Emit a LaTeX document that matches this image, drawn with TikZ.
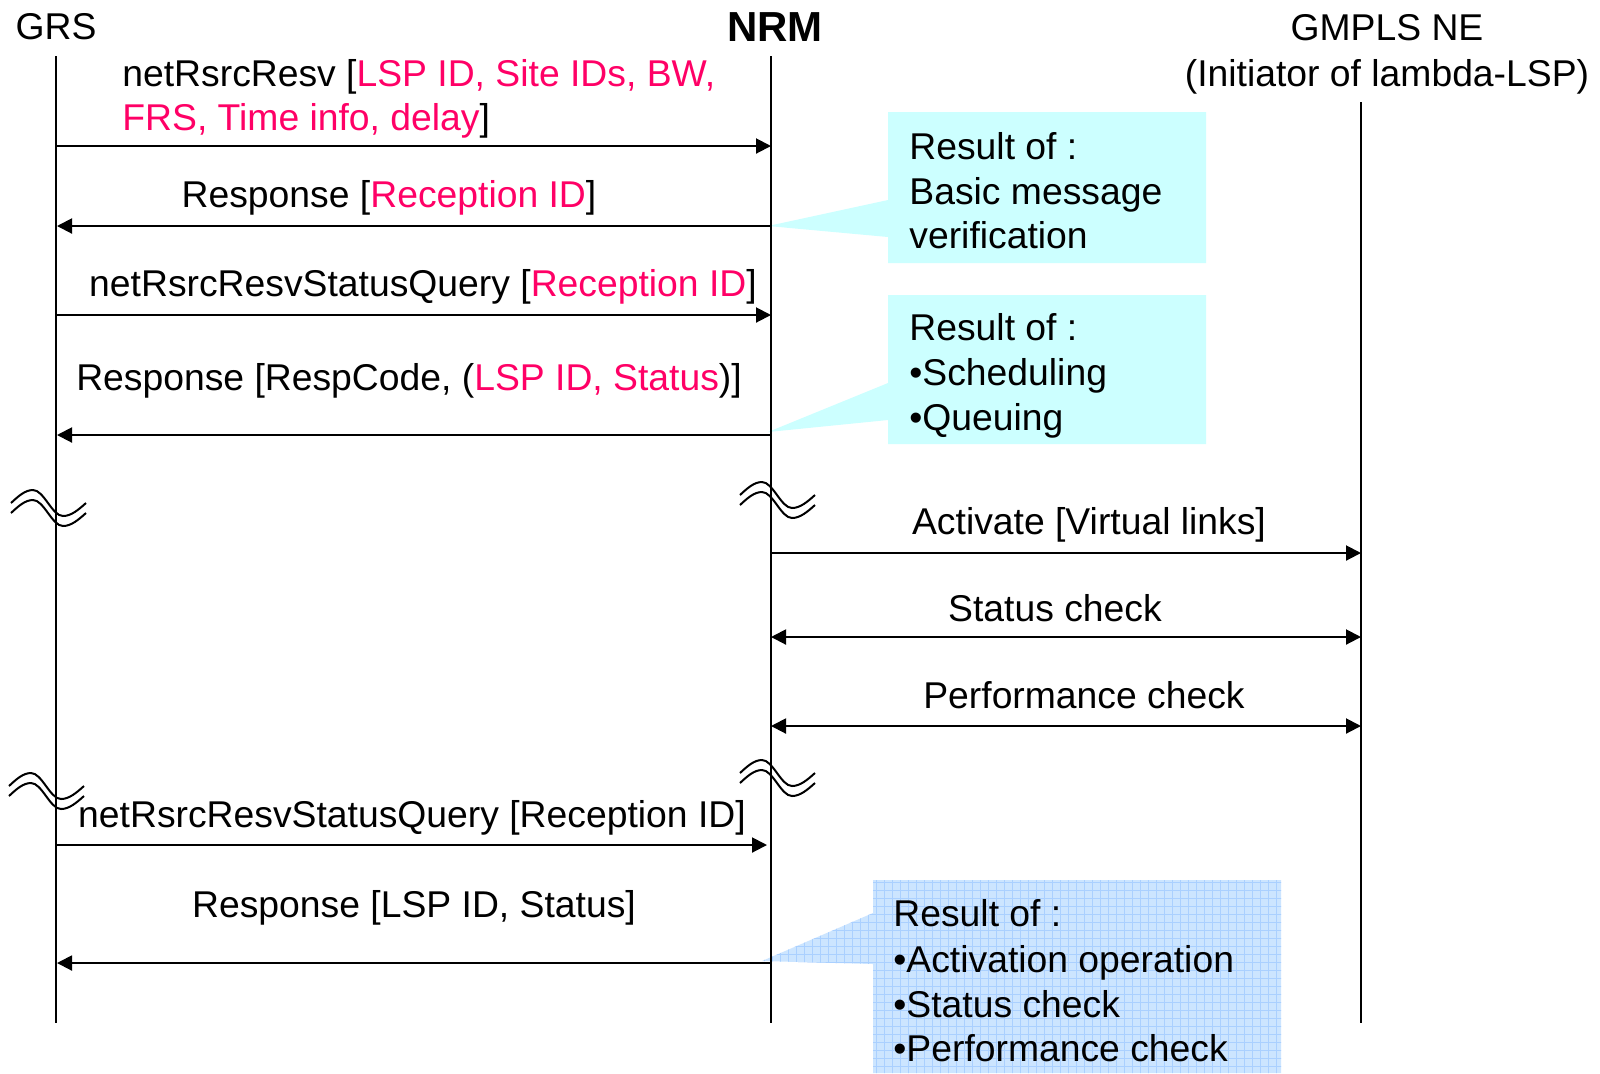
\documentclass[tikz,border=0pt]{standalone}
\usepackage{fontspec}
\setmainfont{Liberation Sans}
\usetikzlibrary{arrows.meta}
\definecolor{msgred}{RGB}{255,0,102}
\definecolor{callcyan}{RGB}{204,255,255}
\definecolor{callblue}{RGB}{204,229,255}
\definecolor{gridblue}{RGB}{170,208,255}
\begin{document}
\begin{tikzpicture}[x=0.5pt,y=-0.5pt,
  lbl/.style={font=\fontsize{18.65}{22}\selectfont, inner sep=0pt, anchor=base},
  lbll/.style={lbl, anchor=base west},
  life/.style={line width=1pt},
  msg/.style={line width=1pt, -{Triangle[length=7.5pt,width=7.5pt]}},
  dmsg/.style={line width=1pt, {Triangle[length=7.5pt,width=7.5pt]}-{Triangle[length=7.5pt,width=7.5pt]}},
  gridline/.style={gridblue, line width=0.35pt},
  breakmark/.pic={
    \draw[line width=1pt] (-37,0) sin (-15,-13) cos (0,0) sin (15,13) cos (38,0);
    \draw[line width=1pt] (-37,10) sin (-15,-3) cos (0,10) sin (15,23) cos (38,10);
  }]
\useasboundingbox (0,0) rectangle (1600,1073);
\fill[white] (0,0) rectangle (1600,1073);

% callouts
\fill[callcyan] (888,112) -- (1206,112) -- (1206,263) -- (888,263) -- (888,237) -- (768,226) -- (888,200) -- cycle;
\fill[callcyan] (888,295) -- (1206,295) -- (1206,444) -- (888,444) -- (888,420) -- (768,432) -- (888,383) -- cycle;
\begin{scope}
  \clip (873,880) -- (1281,880) -- (1281,1073) -- (873,1073) -- (873,964) -- (762,961) -- (873,913) -- cycle;
  \fill[callblue] (750,870) rectangle (1290,1080);
  \foreach \gx in {764,772,...,1284} \draw[gridline] (\gx,870) -- (\gx,1076);
  \foreach \gy in {874,882,...,1074} \draw[gridline] (755,\gy) -- (1285,\gy);
\end{scope}

% titles
\node[lbl] (tgrs) at (56,39) {GRS};
\node[lbl, font=\fontsize{21}{25}\selectfont\bfseries] (tnrm) at (775,41) {NRM};
\node[lbl] (tne1) at (1387,40) {GMPLS NE};
\node[lbl] (tne2) at (1387,86) {(Initiator of lambda-LSP)};

% lifelines
\coordinate (grsTop) at (56,56);  \coordinate (grsBot) at (56,1023);
\coordinate (nrmTop) at (771,56); \coordinate (nrmBot) at (771,1023);
\coordinate (neTop) at (1361,102); \coordinate (neBot) at (1361,1023);
\draw[life] (grsTop) -- (grsBot);
\draw[life] (nrmTop) -- (nrmBot);
\draw[life] (neTop) -- (neBot);

% break marks
\pic (b1) at (48,503) {breakmark};
\pic (b2) at (777,495) {breakmark};
\pic (b3) at (46,786) {breakmark};
\pic (b4) at (777,773) {breakmark};

% message end points
\coordinate (m1s) at (56,146);  \coordinate (m1e) at (771,146);
\coordinate (m2s) at (771,226); \coordinate (m2e) at (57,226);
\coordinate (m3s) at (56,315);  \coordinate (m3e) at (771,315);
\coordinate (m4s) at (771,435); \coordinate (m4e) at (57,435);
\coordinate (m5s) at (771,553); \coordinate (m5e) at (1361,553);
\coordinate (m6s) at (771,637); \coordinate (m6e) at (1361,637);
\coordinate (m7s) at (771,726); \coordinate (m7e) at (1361,726);
\coordinate (m8s) at (56,845);  \coordinate (m8e) at (767,845);
\coordinate (m9s) at (771,963); \coordinate (m9e) at (57,963);

\draw[msg] (m1s) -- (m1e);
\draw[msg] (m2s) -- (m2e);
\draw[msg] (m3s) -- (m3e);
\draw[msg] (m4s) -- (m4e);
\draw[msg] (m5s) -- (m5e);
\draw[dmsg] (m6s) -- (m6e);
\draw[dmsg] (m7s) -- (m7e);
\draw[msg] (m8s) -- (m8e);
\draw[msg] (m9s) -- (m9e);

% message labels
\node[lbll] (l1a) at (122,86) {netRsrcResv [\textcolor{msgred}{LSP ID, Site IDs, BW,}};
\node[lbll] (l1b) at (122,130) {\textcolor{msgred}{FRS, Time info, delay}]};
\node[lbl] (l2) at (389,207) {Response [\textcolor{msgred}{Reception ID}]};
\node[lbl] (l3) at (423,296) {netRsrcResvStatusQuery [\textcolor{msgred}{Reception ID}]};
\node[lbl] (l4) at (409,390) {Response [RespCode, (\textcolor{msgred}{LSP ID, Status})]};
\node[lbl] (l5) at (1089,534) {Activate [Virtual links]};
\node[lbl] (l6) at (1055,621) {Status check};
\node[lbl] (l7) at (1084,708) {Performance check};
\node[lbl] (l8) at (412,827) {netRsrcResvStatusQuery [Reception ID]};
\node[lbl] (l9) at (414,917) {Response [LSP ID, Status]};

% callout texts
\node[lbll] (c1a) at (909,159) {Result of :};
\node[lbll] (c1b) at (909,204) {Basic message};
\node[lbll] (c1c) at (909,248) {verification};
\node[lbll] (c2a) at (909,340) {Result of :};
\node[lbll] (c2b) at (909,385) {•Scheduling};
\node[lbll] (c2c) at (909,430) {•Queuing};
\node[lbll] (c3a) at (893,926) {Result of :};
\node[lbll] (c3b) at (893,972) {•Activation operation};
\node[lbll] (c3c) at (893,1017) {•Status check};
\node[lbll] (c3d) at (893,1061) {•Performance check};
\end{tikzpicture}
\end{document}
